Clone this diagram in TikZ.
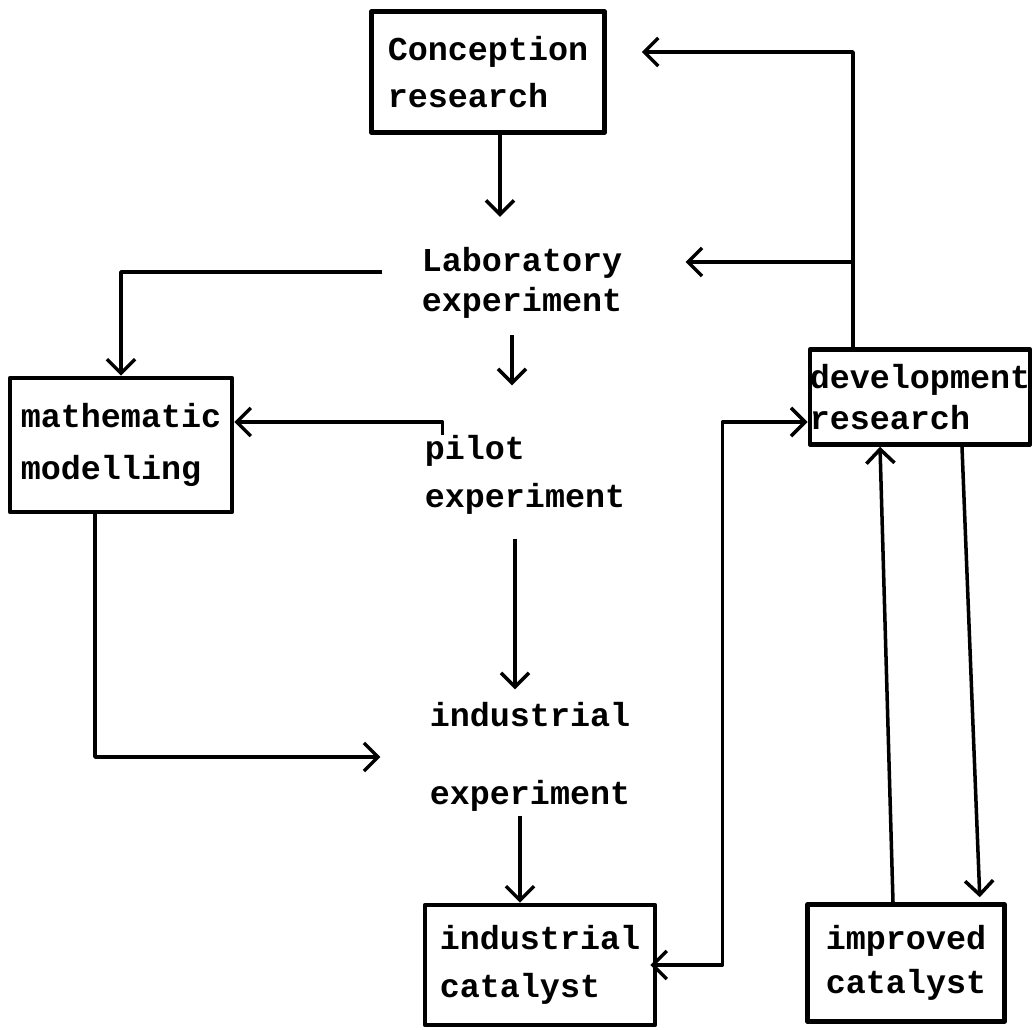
\documentclass[tikz,border=0pt]{standalone}
\usepackage{fontspec}
\setmonofont{Liberation Mono}
\usetikzlibrary{arrows.meta}
\tikzset{
  box/.style={draw,line width=2.6pt,align=left,inner sep=0pt},
  txt/.style={align=left,inner sep=0pt},
  barb/.tip={Straight Barb[length=8pt,width=16pt,line width=2pt]},
  arr/.style={line width=2pt,-barb},
  darr/.style={line width=2pt,barb-barb},
}
\begin{document}
\begin{tikzpicture}[x=0.02cm,y=-0.02cm,line join=round,
    font=\ttfamily\bfseries\fontsize{19}{27}\selectfont]
    \useasboundingbox (0,0) rectangle (1036,1030);
    % boxes
    \foreach \nm/\x/\y/\w/\h/\t in {concep/488/72/4.66/2.42/{Conception\\research},
        math/121/445/4.44/2.68/{mathematic\\[3pt]modelling},
        dev/920/397/4.4/1.9/{development\\[-4pt]research},
        indcat/540/965/4.6/2.4/{industrial\\catalyst},
        impcat/906/963/3.94/2.34/{improved\\[-2pt]catalyst}}
        \node[box,minimum width=\w cm,minimum height=\h cm] (\nm) at (\x,\y) {\t};
    % plain text steps
    \foreach \nm/\x/\y/\t in {lab/522/283/{Laboratory\\[-4pt]experiment},
        pilot/525/475/{pilot\\experiment},
        indexp/530/757/{industrial\\[17pt]experiment}}
        \node[txt] (\nm) at (\x,\y) {\t};
    % main line
    \foreach \a/\b/\xx/\s/\e in {concep/lab/500/0/0.6,lab/pilot/512/0.32/1,
        pilot/indexp/515/0.48/0.26,indexp/indcat/520/0.08/0}
        \draw[arr,shorten <=\s cm,shorten >=\e cm] (\a.south -| \xx,0) -- (\b.north -| \xx,0);
    % feedback from development research
    \coordinate (jct) at (853,262);
    \draw[arr,shorten >=0.7cm] (dev.north -| 853,0) |- ([yshift=0.4cm]concep.east);
    \draw[arr,shorten >=1.26cm] (jct) -- (lab.east |- jct);
    % side branches
    \draw[arr,shorten <=0.78cm] ([yshift=0.22cm]lab.west) -| (math.north);
    \draw[arr] ([xshift=0.36cm]pilot.north west) |- ([yshift=0.46cm]math.east);
    \draw[arr,shorten >=0.98cm] (math.south -| 95,0) |- (indexp.west);
    \draw[darr,shorten >=-0.14cm] ([yshift=-0.5cm]dev.west) -- ++(-85,0) |- (indcat.east);
    \draw[arr] ([xshift=-0.26cm]impcat.north) -- ([xshift=-0.8cm]dev.south);
    \draw[arr,shorten >=0.1cm] ([xshift=0.84cm]dev.south) -- ([xshift=1.48cm]impcat.north);
\end{tikzpicture}
\end{document}
